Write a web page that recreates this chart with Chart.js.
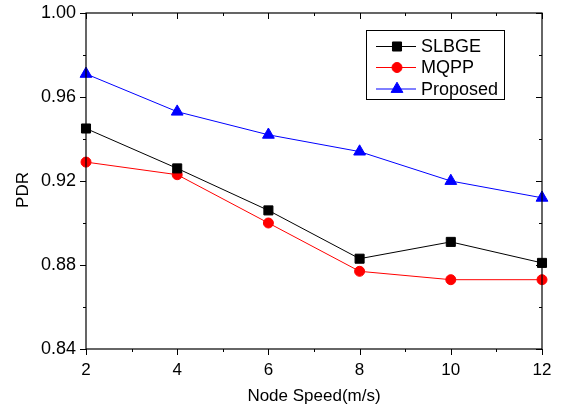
<!DOCTYPE html>
<html>
<head>
<meta charset="utf-8">
<script src="https://cdn.jsdelivr.net/npm/chart.js@4/dist/chart.umd.min.js"></script>
<style>
  html, body { margin: 0; padding: 0; background: #fff; }
  #wrap { width: 563px; height: 411px; }
</style>
</head>
<body>
<div id="wrap"><canvas id="c" width="563" height="411"></canvas></div>
<script>
// Packet delivery ratio against node speed
const speeds = [2, 4, 6, 8, 10, 12];
const slbge = [0.945, 0.926, 0.906, 0.883, 0.891, 0.881];
const mqpp = [0.929, 0.923, 0.900, 0.877, 0.873, 0.873];
const proposed = [0.971, 0.953, 0.942, 0.934, 0.920, 0.912];
const seriesNames = ['SLBGE', 'MQPP', 'Proposed'];
const yTicks = [0.84, 0.88, 0.92, 0.96, 1.00];
const yTitle = 'PDR';
const xTitle = 'Node Speed(m/s)';

const FONT = 'Liberation Sans, Arial, sans-serif';

function toPoints(vals) {
  return speeds.map((s, i) => ({ x: s, y: vals[i] }));
}

// Frame with ticks (outward on left/bottom, inward on top/right), y title and legend box
const framePlugin = {
  id: 'frame',
  afterDraw(chart) {
    const { ctx, chartArea: a, scales } = chart;
    const xs = scales.x, ys = scales.y;
    ctx.save();
    ctx.strokeStyle = '#000';
    ctx.lineWidth = 1.2;
    ctx.strokeRect(a.left, a.top, a.right - a.left, a.bottom - a.top);
    ctx.lineWidth = 1;
    const major = 6, minor = 3;
    ctx.beginPath();
    for (let v = xs.min; v <= xs.max + 1e-9; v += 1) {
      const px = Math.round(xs.getPixelForValue(v)) + 0.5;
      const len = (Math.round(v) % 2 === 0) ? major : minor;
      ctx.moveTo(px, a.bottom); ctx.lineTo(px, a.bottom + len);
      ctx.moveTo(px, a.top); ctx.lineTo(px, a.top + len);
    }
    for (let k = 0; k <= 8; k++) {
      const v = ys.min + k * 0.02;
      const py = Math.round(ys.getPixelForValue(v)) + 0.5;
      const len = (k % 2 === 0) ? major : minor;
      ctx.moveTo(a.left, py); ctx.lineTo(a.left - len, py);
      ctx.moveTo(a.right, py); ctx.lineTo(a.right - len, py);
    }
    ctx.stroke();

    // y axis title
    ctx.save();
    ctx.translate(23, (a.top + a.bottom) / 2 + 9);
    ctx.rotate(-Math.PI / 2);
    ctx.fillStyle = '#000';
    ctx.font = '17px ' + FONT;
    ctx.textAlign = 'center';
    ctx.textBaseline = 'middle';
    ctx.fillText(yTitle, 0, 0);
    ctx.restore();

    // legend
    const box = { x: 366.5, y: 30.5, w: 138, h: 69 };
    ctx.lineWidth = 1;
    ctx.strokeStyle = '#000';
    ctx.fillStyle = '#fff';
    ctx.fillRect(box.x, box.y, box.w, box.h);
    ctx.strokeRect(box.x, box.y, box.w, box.h);
    const rows = [46.5, 67.5, 89];
    chart.data.datasets.forEach((ds, i) => {
      const y = rows[i];
      ctx.strokeStyle = ds.borderColor;
      ctx.lineWidth = 1;
      ctx.beginPath();
      ctx.moveTo(376, y); ctx.lineTo(416, y);
      ctx.stroke();
      ctx.fillStyle = ds.pointBackgroundColor;
      ctx.strokeStyle = ds.pointBorderColor;
      Chart.helpers.drawPoint(ctx, {
        pointStyle: ds.pointStyle, radius: ds.pointRadius, rotation: 0, borderWidth: 1
      }, 397, y);
      ctx.fillStyle = '#000';
      ctx.font = '18px ' + FONT;
      ctx.textBaseline = 'middle';
      ctx.textAlign = 'left';
      ctx.fillText(ds.label, 421, y + 1);
    });
    ctx.restore();
  }
};

const styles = [
  { color: '#000000', point: 'rect', r: 6.4 },
  { color: '#ff0000', point: 'circle', r: 5 },
  { color: '#0000ff', point: 'triangle', r: 6.8 }
];
const values = [slbge, mqpp, proposed];

new Chart(document.getElementById('c'), {
  type: 'line',
  data: {
    datasets: values.map((vals, i) => ({
      label: seriesNames[i],
      data: toPoints(vals),
      borderColor: styles[i].color,
      backgroundColor: styles[i].color,
      pointBackgroundColor: styles[i].color,
      pointBorderColor: styles[i].color,
      pointStyle: styles[i].point,
      pointRadius: styles[i].r,
      pointBorderWidth: 1,
      borderWidth: 1,
      tension: 0
    }))
  },
  options: {
    responsive: false,
    animation: false,
    clip: false,
    layout: { padding: { top: 13, right: 21, left: 0, bottom: 0 } },
    plugins: { legend: { display: false }, tooltip: { enabled: false } },
    scales: {
      x: {
        type: 'linear',
        min: 2, max: 12,
        grid: { display: false, drawTicks: false },
        border: { display: false },
        ticks: {
          stepSize: 2, color: '#000', padding: 11,
          font: { family: FONT, size: 17 },
          maxRotation: 0
        },
        title: {
          display: true, text: xTitle, color: '#000',
          font: { family: FONT, size: 17 }, padding: { top: 0, bottom: 4 }
        },
        afterFit(scale) {
          scale.height = 62;
          scale.paddingLeft = 0;
          scale.paddingRight = 0;
        }
      },
      y: {
        type: 'linear',
        min: 0.84, max: 1.00,
        grid: { display: false, drawTicks: false },
        border: { display: false },
        afterBuildTicks(scale) { scale.ticks = yTicks.map(v => ({ value: v })); },
        ticks: {
          color: '#000', padding: 10,
          font: { family: FONT, size: 18 },
          callback: v => Number(v).toFixed(2)
        },
        afterFit(scale) {
          scale.width = 86;
          scale.paddingTop = 0;
          scale.paddingBottom = 0;
        }
      }
    }
  },
  plugins: [framePlugin]
});
</script>
</body>
</html>
